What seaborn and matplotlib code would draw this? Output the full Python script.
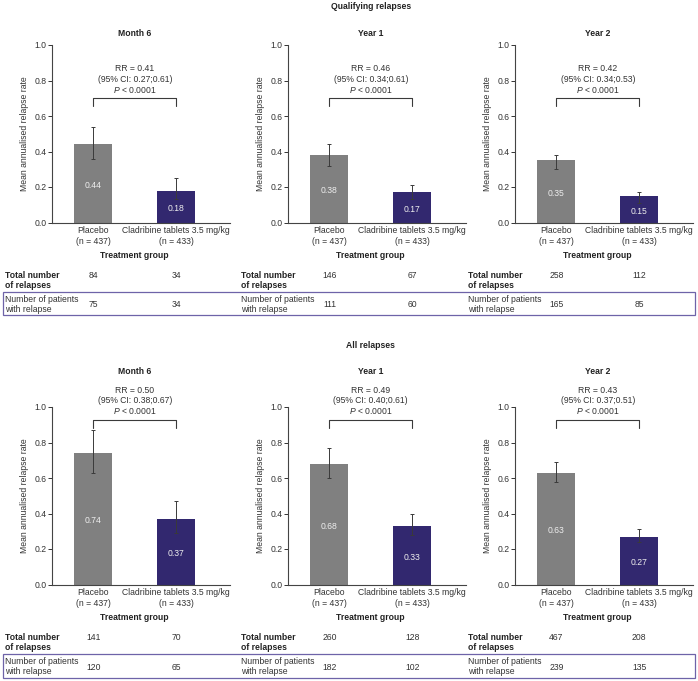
import numpy as np
import pandas as pd
import matplotlib
matplotlib.use("Agg")
import matplotlib.pyplot as plt
import matplotlib.transforms as mtransforms
from matplotlib.patches import Rectangle
import seaborn as sns

# ---------------- data ----------------
sections = ["Qualifying relapses", "All relapses"]
panels = ["Month 6", "Year 1", "Year 2"]
groups = ["Placebo\n(n = 437)", "Cladribine tablets 3.5 mg/kg\n(n = 433)"]

# Qualifying relapses
q_placebo = [0.44, 0.38, 0.35]
q_placebo_lo = [0.36, 0.32, 0.30]
q_placebo_hi = [0.54, 0.44, 0.38]
q_clad = [0.18, 0.17, 0.15]
q_clad_lo = [0.13, 0.13, 0.11]
q_clad_hi = [0.25, 0.21, 0.17]
q_rr = ["0.41", "0.46", "0.42"]
q_ci = ["0.27;0.61", "0.34;0.61", "0.34;0.53"]
q_total_placebo = [84, 146, 258]
q_total_clad = [34, 67, 112]
q_pat_placebo = [75, 111, 165]
q_pat_clad = [34, 60, 85]

# All relapses
a_placebo = [0.74, 0.68, 0.63]
a_placebo_lo = [0.63, 0.60, 0.58]
a_placebo_hi = [0.87, 0.77, 0.69]
a_clad = [0.37, 0.33, 0.27]
a_clad_lo = [0.29, 0.28, 0.24]
a_clad_hi = [0.47, 0.40, 0.31]
a_rr = ["0.50", "0.49", "0.43"]
a_ci = ["0.38;0.67", "0.40;0.61", "0.37;0.51"]
a_total_placebo = [141, 260, 467]
a_total_clad = [70, 128, 208]
a_pat_placebo = [120, 182, 239]
a_pat_clad = [65, 102, 135]

row_labels = ["Total number\nof relapses", "Number of patients\nwith relapse"]
p_text = "$\\it{P}$ < 0.0001"

# ---------------- style ----------------
sns.set_style("ticks")
plt.rcParams["font.family"] = ["Liberation Sans", "DejaVu Sans"]
plt.rcParams["mathtext.fontset"] = "custom"
plt.rcParams["mathtext.it"] = "Liberation Sans:italic"
plt.rcParams["mathtext.rm"] = "Liberation Sans"
FS = 6.2
GRAY = "#808080"
PURPLE = "#32286f"
DARK = "#3a3a3a"
BOX = "#6e63a8"

W, H = 698, 681
fig = plt.figure(figsize=(W / 100, H / 100), dpi=100)


def fx(px):
    return px / W


def fy(py):
    return 1 - py / H


rows = [
    dict(pl=q_placebo, pl_lo=q_placebo_lo, pl_hi=q_placebo_hi, cl=q_clad, cl_lo=q_clad_lo,
         cl_hi=q_clad_hi, rr=q_rr, ci=q_ci, tp=q_total_placebo, tc=q_total_clad,
         pp=q_pat_placebo, pc=q_pat_clad, top=45.0, bottom=222.5, bracket=0.70,
         title_y=33.0, section_y=6.5),
    dict(pl=a_placebo, pl_lo=a_placebo_lo, pl_hi=a_placebo_hi, cl=a_clad, cl_lo=a_clad_lo,
         cl_hi=a_clad_hi, rr=a_rr, ci=a_ci, tp=a_total_placebo, tc=a_total_clad,
         pp=a_pat_placebo, pc=a_pat_clad, top=407.0, bottom=584.5, bracket=0.927,
         title_y=371.5, section_y=345.0),
]

lefts = [52, 288, 515]
AX_W = 178

for r, (section, row) in enumerate(zip(sections, rows)):
    h_px = row["bottom"] - row["top"]
    for i, panel in enumerate(panels):
        left = lefts[i]
        ax = fig.add_axes([fx(left), fy(row["bottom"]), fx(AX_W), h_px / H])
        rates = [row["pl"][i], row["cl"][i]]
        lo = [row["pl_lo"][i], row["cl_lo"][i]]
        hi = [row["pl_hi"][i], row["cl_hi"][i]]
        df = pd.DataFrame({"group": groups, "rate": rates})
        sns.barplot(data=df, x="group", y="rate", hue="group", order=groups,
                    hue_order=groups, palette=[GRAY, PURPLE], width=0.46,
                    legend=False, errorbar=None, saturation=1, ax=ax,
                    linewidth=0)
        yerr = [[rates[k] - lo[k] for k in range(2)], [hi[k] - rates[k] for k in range(2)]]
        ax.errorbar([0, 1], rates, yerr=yerr, fmt="none", ecolor=DARK,
                    elinewidth=0.7, capsize=1.5, capthick=0.7, zorder=5)
        for k in range(2):
            ax.text(k, rates[k] / 2 - 0.012, f"{rates[k]:.2f}", color="#eeeeee",
                    ha="center", va="center", fontsize=FS)

        ax.set_xlim(-0.5, 1.65)
        ax.set_ylim(0, 1)
        ax.set_yticks(np.arange(0, 1.01, 0.2))
        ax.set_yticklabels([f"{v:.1f}" for v in np.arange(0, 1.01, 0.2)])
        ax.set_xticks([0, 1])
        ax.set_xticklabels(groups, fontsize=FS, linespacing=1.3)
        ax.tick_params(axis="x", length=0, pad=2.2, colors="#333333", labelsize=FS)
        ax.tick_params(axis="y", length=2.8, width=0.7, pad=1.0, colors="#333333", labelsize=FS)
        ax.set_xlabel("")
        ax.set_ylabel("Mean annualised relapse rate", fontsize=FS, color="#333333", labelpad=4)
        sns.despine(ax=ax)
        for s in ["left", "bottom"]:
            ax.spines[s].set_color("#444444")
            ax.spines[s].set_linewidth(0.8)

        # bracket and statistics
        by = row["bracket"]
        ax.plot([0, 0, 1, 1], [by - 0.045, by, by, by - 0.045], color=DARK, lw=0.8,
                clip_on=False)
        ax.text(0.5, by + 0.167, f"RR = {row['rr'][i]}", ha="center", va="center",
                fontsize=FS, color="#333333", clip_on=False)
        ax.text(0.5, by + 0.108, f"(95% CI: {row['ci'][i]})", ha="center", va="center",
                fontsize=FS, color="#333333", clip_on=False)
        ax.text(0.5, by + 0.049, p_text, ha="center", va="center",
                fontsize=FS, color="#333333", clip_on=False)

        tr = mtransforms.blended_transform_factory(ax.transData, fig.transFigure)
        ax.text(0.5, fy(row["title_y"]), panel, transform=tr, ha="center", va="center",
                fontsize=FS, fontweight="bold", color="#222222")
        if i == 1:
            ax.text(0.5, fy(row["section_y"]), section, transform=tr, ha="center",
                    va="center", fontsize=FS, fontweight="bold", color="#222222")

        b = row["bottom"]
        ax.text(0.5, fy(b + 32.5), "Treatment group", transform=tr, ha="center",
                va="center", fontsize=FS, fontweight="bold", color="#222222")

        # table labels
        l1 = row_labels[0].split("\n")
        l2 = row_labels[1].split("\n")
        fig.text(fx(left - 47), fy(b + 52.5), l1[0], ha="left", va="center",
                 fontsize=FS, fontweight="bold", color="#222222")
        fig.text(fx(left - 47), fy(b + 63.0), l1[1], ha="left", va="center",
                 fontsize=FS, fontweight="bold", color="#222222")
        fig.text(fx(left - 47), fy(b + 77.0), l2[0], ha="left", va="center",
                 fontsize=FS, color="#333333")
        fig.text(fx(left - 47), fy(b + 87.0), l2[1], ha="left", va="center",
                 fontsize=FS, color="#333333")
        ax.text(0, fy(b + 52.5), str(row["tp"][i]), transform=tr, ha="center",
                va="center", fontsize=FS, color="#333333")
        ax.text(1, fy(b + 52.5), str(row["tc"][i]), transform=tr, ha="center",
                va="center", fontsize=FS, color="#333333")
        ax.text(0, fy(b + 82.5), str(row["pp"][i]), transform=tr, ha="center",
                va="center", fontsize=FS, color="#333333")
        ax.text(1, fy(b + 82.5), str(row["pc"][i]), transform=tr, ha="center",
                va="center", fontsize=FS, color="#333333")

    b = row["bottom"]
    fig.add_artist(Rectangle((fx(3), fy(b + 93)), fx(692), (93 - 69.5) / H,
                             transform=fig.transFigure, fill=False,
                             edgecolor=BOX, linewidth=0.9))

fig.savefig("out.png", dpi=100, facecolor="white")
